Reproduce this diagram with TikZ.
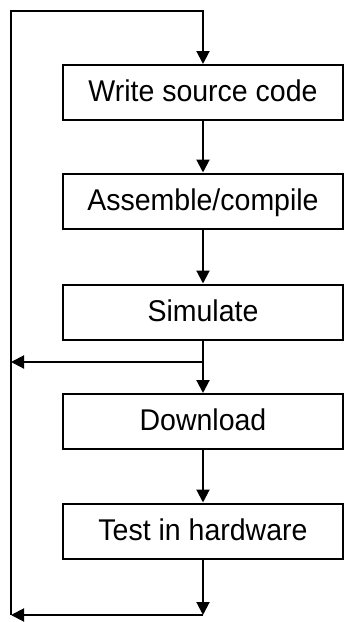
\documentclass[tikz,border=0pt]{standalone}
\usepackage{fontspec}
\setmainfont{Liberation Sans}[FakeStretch=0.95]
\usetikzlibrary{arrows.meta}

\begin{document}
\begin{tikzpicture}[x=0.75pt,y=-0.75pt,
  stepbox/.style={draw, line width=1.5pt, minimum width=210pt,
    minimum height=41.25pt, inner sep=0pt,
    text height=16.1pt, text depth=2.25pt,
    font=\fontsize{22.5}{26}\selectfont},
  flow/.style={line width=1.5pt},
  tip/.style={-{Triangle[length=9.75pt,width=9.75pt]}}]
\useasboundingbox (0,0) rectangle (344,622);

% process steps
\node[stepbox] (write) at (203,92.5)  {Write source code};
\node[stepbox] (asm)   at (203,201)   {Assemble/compile};
\node[stepbox] (sim)   at (203,312)   {Simulate};
\node[stepbox] (down)  at (203,421.5) {Download};
\node[stepbox] (test)  at (203,531)   {Test in hardware};

% junctions and loop corners
\coordinate (j1)  at (203,362);
\coordinate (l1)  at (11,362);
\coordinate (j2)  at (203,615);
\coordinate (l2)  at (11,615);
\coordinate (tl)  at (11,11);
\coordinate (tr)  at (203,11);

% forward flow
\draw[flow,tip] (write) -- (asm);
\draw[flow,tip] (asm) -- (sim);
\draw[flow] (sim) -- (j1);
\draw[flow,tip] (j1) -- (down);
\draw[flow,tip] (down) -- (test);
\draw[flow,tip] (test) -- (j2);

% feedback paths
\draw[flow,tip] (j1) -- (l1);
\draw[flow,tip] (j2) -- (l2);
\draw[flow,tip,line join=miter] (l2) -- (tl) -- (tr) -- (write);
\end{tikzpicture}
\end{document}
